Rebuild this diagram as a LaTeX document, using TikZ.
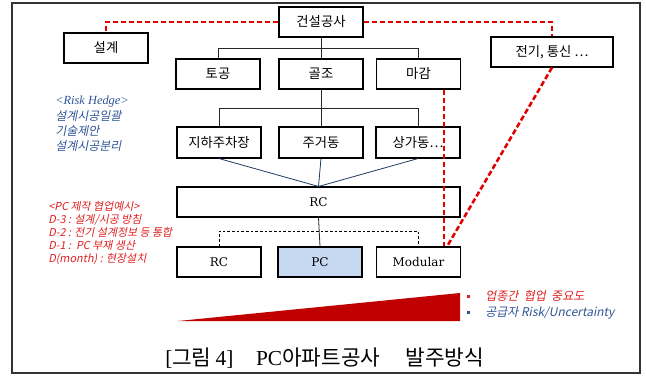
\documentclass[tikz,border=0pt]{standalone}
\usepackage{fontspec}
\setmainfont{Liberation Serif}
\newfontfamily\kr{Noto Sans CJK KR}
\newfontfamily\krit[FakeSlant=0.2]{Noto Sans CJK KR}
\newfontfamily\dvs{DejaVu Serif}
\usetikzlibrary{calc}
\definecolor{redline}{HTML}{E00000}
\definecolor{trired}{HTML}{C00000}
\definecolor{bluetxt}{HTML}{2F5597}
\definecolor{redtxt}{HTML}{E02020}
\definecolor{pcfill}{HTML}{C6D9F1}
\definecolor{navy}{HTML}{1F3A5F}
\definecolor{frame}{HTML}{333333}
\tikzset{
  box/.style={draw=black, line width=0.8pt, minimum width=63pt, minimum height=22.5pt, inner sep=0pt, font=\kr\fontsize{10pt}{12pt}\selectfont},
  latbox/.style={box, font=\dvs\fontsize{9pt}{11pt}\selectfont},
  treeline/.style={draw=black!85, line width=0.6pt},
  navyline/.style={draw=navy, line width=0.6pt},
  reddash/.style={draw=redline, line width=1.9pt, dash pattern=on 4pt off 2pt},
  thindash/.style={draw=black, line width=0.6pt, dash pattern=on 2pt off 1.5pt},
  bluetext/.style={text=bluetxt, anchor=base west, inner sep=0pt, font=\krit\fontsize{9pt}{10pt}\selectfont},
  redtext/.style={text=redtxt, anchor=base west, inner sep=0pt, font=\krit\fontsize{8.2pt}{9pt}\selectfont},
  legtext/.style={anchor=base west, inner sep=0pt, font=\krit\fontsize{9pt}{10pt}\selectfont},
}
\begin{document}
\begin{tikzpicture}[x=0.75pt,y=-0.75pt]
\useasboundingbox (0,0) rectangle (646,376);
\draw[draw=frame, line width=1.1pt] (12,3) rectangle (640,373);

% top level
\node[box] (gs) at (321,22) {건설공사};
\node[box] (sg) at (106,48) {설계};
\node[box, minimum width=91.5pt] (jt) at (552,52) {전기, 통신 ⋯};
% level 2
\node[box] (tg) at (218,74) {토공};
\node[box] (gj) at (321,74) {골조};
\node[box] (mg) at (418.5,74) {마감};
% level 3
\node[box, minimum height=23.25pt] (l1) at (219,142.5) {지하주차장};
\node[box, minimum height=23.25pt] (l2) at (321,142.5) {주거동};
\node[box, minimum height=23.25pt] (l3) at (418,142.5) {상가동⋯};
% RC big
\node[latbox, minimum width=212.25pt] (rcb) at (318.5,202) {RC};
% bottom row
\node[latbox] (rc) at (219,262) {RC};
\node[latbox, fill=pcfill] (pc) at (320,262) {PC};
\node[latbox] (mod) at (418.5,262) {Modular};

% tree connectors
\draw[treeline] (gs.south) -- (gj.north);
\draw[treeline] (tg.north) -- ++(0,-10) -| (mg.north);
\draw[treeline] (gj.south) -- (l2.north);
\draw[treeline] (l1.north) -- ++(0,-18) -| (l3.north);
\draw[navyline] (l1.south) -- (rcb.north);
\draw[navyline] (l2.south) -- (rcb.north);
\draw[navyline] (l3.south) -- (rcb.north);
\draw[treeline] (rcb.south) -- (pc.north);
\draw[thindash] (rc.north) -- ++(0,-15) -| (mod.north);

% red dashed
\draw[reddash] (gs.west) -| (sg.north);
\draw[reddash] (gs.east) -| (jt.north);
\draw[reddash] ($(mg.south east)+(-17,0)$) -- ($(mod.north east)+(-17,0)$);
\draw[reddash] (jt.south) -- ($(mod.north east)+(-14,0)$);

% left texts
\node[text=bluetxt, anchor=base west, inner sep=0pt, font=\itshape\fontsize{9.3pt}{10pt}\selectfont] (rh0) at (55,104) {<Risk Hedge>};
\node[bluetext] (rh1) at (55,120) {설계시공일괄};
\node[bluetext] (rh2) at (55,135) {기술제안};
\node[bluetext] (rh3) at (55,150) {설계시공분리};

\node[redtext] (pc0) at (48,210) {<PC 제작 협업예시>};
\node[redtext] (pc1) at (48,223) {D-3 : 설계/시공 방침};
\node[redtext] (pc2) at (48,236) {D-2 : 전기 설계정보 등 통합};
\node[redtext] (pc3) at (48,249) {D-1 :\ \ PC 부재 생산};
\node[redtext] (pc4) at (48,262) {D(month) : 현장설치};

% triangle
\fill[trired] (178,321) -- (460,293) -- (460,321) -- cycle;

% legend
\fill[redtxt] (466.5,294.5) rectangle (469.5,297.5);
\fill[bluetxt] (466.5,310.5) rectangle (469.5,313.5);
\node[legtext, text=redtxt] (lg1) at (485,300) {업종간\ \ 협업\ \ 중요도};
\node[legtext, text=bluetxt] (lg2) at (485,316) {공급자 Risk/Uncertainty};

% caption
\node[anchor=base west, inner sep=0pt, font=\fontsize{16pt}{18pt}\selectfont] (cap) at (165,365)
  {[{\kr 그림}\hspace{3pt}4]\hspace{17pt}PC{\kr 아파트공사}\hspace{19pt}{\kr 발주방식}};
\end{tikzpicture}
\end{document}
